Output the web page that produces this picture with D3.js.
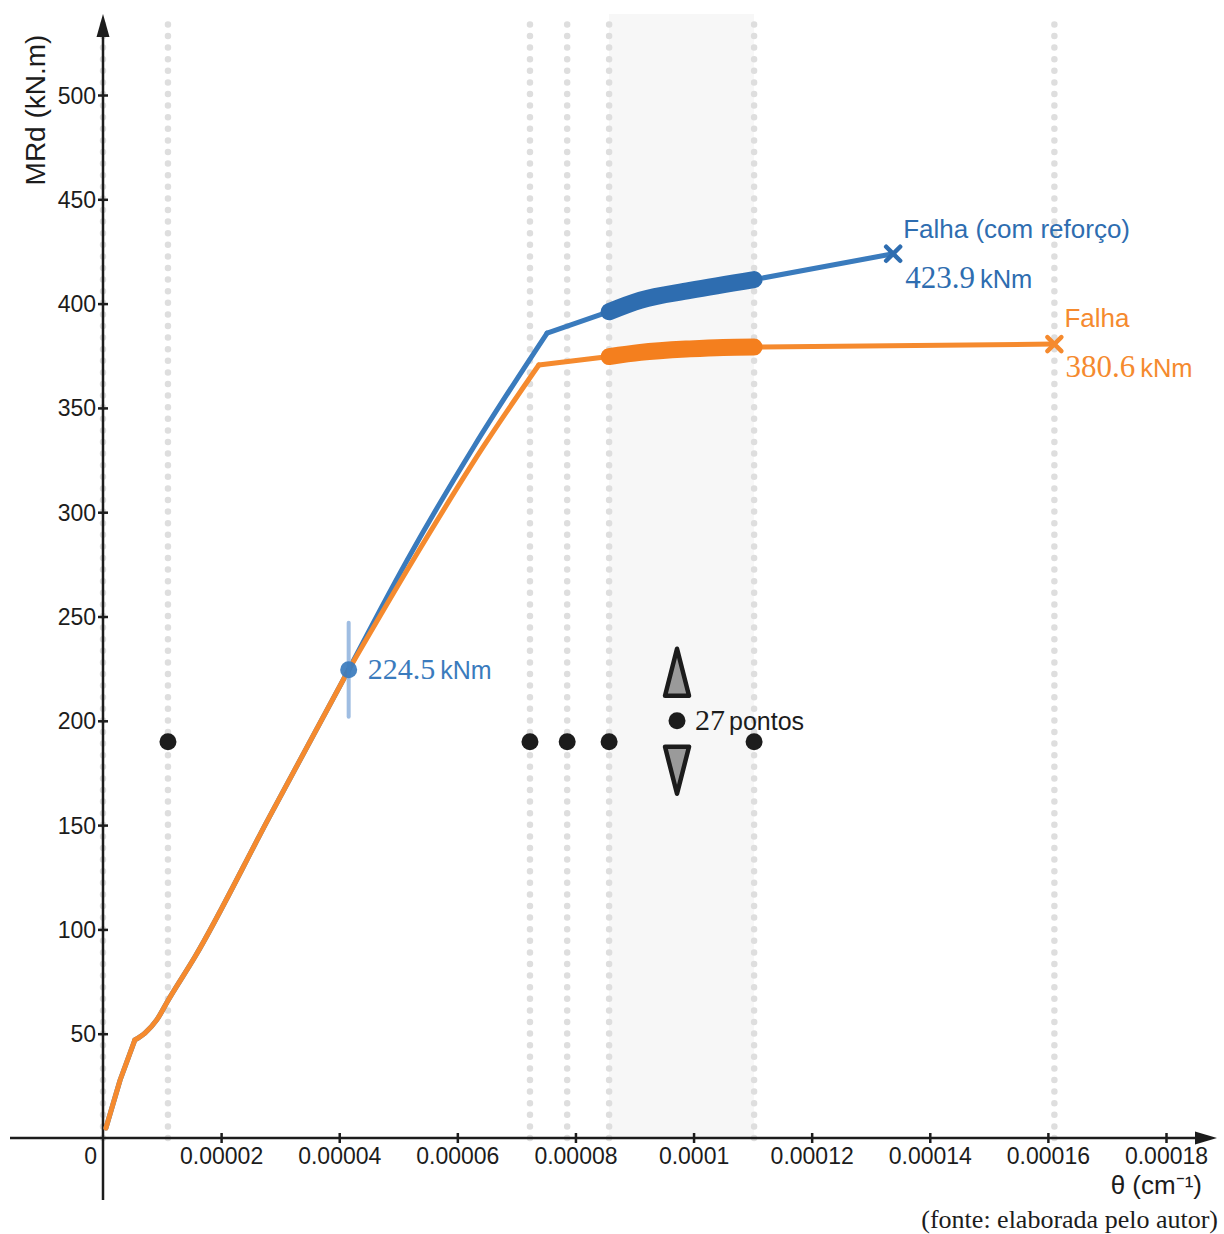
<!DOCTYPE html>
<html>
<head>
<meta charset="utf-8">
<script src="https://cdn.jsdelivr.net/npm/d3@7"></script>
<style>
  html, body { margin: 0; padding: 0; background: #fff; }
  svg { display: block; }
</style>
</head>
<body>
<svg id="chart" width="1224" height="1234"></svg>
<script>
// Moment–curvature curves (θ in cm⁻¹, MRd in kN.m)
// initial cracking stretch, shared by both sections
const startTheta = [0.5e-6, 2.9e-6, 5.4e-6];
const startM     = [4.8, 27.8, 47.0];
// post-cracking stretch up to the yield point, shared by both sections
const sharedTheta = [5.4e-6, 7.1e-6, 9.1e-6, 1.106e-5, 1.56e-5, 2.8e-5, 4.16e-5];
const sharedM     = [47.0, 50.3, 56.6, 66.2, 87.0, 153.0, 224.5];

const blueTheta = [4.16e-5, 5.15e-5, 6.28e-5, 7.52e-5];
const blueM     = [224.5, 277.0, 331.4, 385.9];
const blueRangeTheta = [8.57e-5, 9.1e-5, 9.94e-5, 1.1025e-4];
const blueRangeM     = [396.1, 401.6, 406.3, 411.5];
const blueTailTheta = [7.52e-5, 8.57e-5, 1.1025e-4, 1.338e-4];
const blueTailM     = [385.9, 396.1, 411.5, 423.9];

const orangeTheta = [4.16e-5, 5.25e-5, 6.44e-5, 7.38e-5];
const orangeM     = [224.5, 277.0, 331.4, 370.6];
const orangeRangeTheta = [8.57e-5, 9.1e-5, 9.94e-5, 1.05e-4, 1.1025e-4];
const orangeRangeM     = [374.6, 376.6, 378.3, 379.0, 379.2];
const orangeTailTheta = [7.38e-5, 8.57e-5, 1.1025e-4, 1.611e-4];
const orangeTailM     = [370.6, 374.6, 379.2, 380.6];

// Reference curvatures (dotted guides) and marker points
const guideTheta = [0, 1.1e-5, 7.23e-5, 7.86e-5, 8.57e-5, 1.1025e-4, 1.611e-4];
const stepDotTheta = [1.1e-5, 7.23e-5, 7.86e-5, 8.57e-5, 1.1025e-4];
const stepDotM = 190;
const bandTheta = [8.57e-5, 1.1025e-4];
const countTheta = 9.72e-5, countM = 200, countLabel = "27", countWord = "pontos";

const yieldPoint = { theta: 4.16e-5, m: 224.5 };
const failBlue = { theta: 1.338e-4, m: 423.9, title: "Falha (com reforço)" };
const failOrange = { theta: 1.611e-4, m: 380.6, title: "Falha" };

const xTickValues = [2e-5, 4e-5, 6e-5, 8e-5, 1e-4, 1.2e-4, 1.4e-4, 1.6e-4, 1.8e-4];
const xTickLabels = ["0.00002", "0.00004", "0.00006", "0.00008", "0.0001", "0.00012", "0.00014", "0.00016", "0.00018"];
const yTickValues = [50, 100, 150, 200, 250, 300, 350, 400, 450, 500];
const yTickLabels = ["50", "100", "150", "200", "250", "300", "350", "400", "450", "500"];

const BLUE = "#3a7bbd", BLUE_DARK = "#2e6db0", BLUE_LIGHT = "#9fbde2";
const ORANGE = "#f58a2e", ORANGE_DARK = "#f47f1e";
const INK = "#1c1c1c";
const SANS = "'Liberation Sans', Arial, Helvetica, sans-serif";
const SERIF = "'Liberation Serif', 'Times New Roman', serif";

const svg = d3.select("#chart");
const x = d3.scaleLinear().domain([0, 1.8e-4]).range([103, 1166]);
const y = d3.scaleLinear().domain([0, 500]).range([1138, 95]);

const zip = (ts, ms) => ts.map((t, i) => [t, ms[i]]);
const straight = d3.line().x(d => x(d[0])).y(d => y(d[1]));
const smooth = d3.line().curve(d3.curveMonotoneX).x(d => x(d[0])).y(d => y(d[1]));

// shaded band between the range limits
svg.append("rect")
  .attr("x", x(bandTheta[0])).attr("y", 14)
  .attr("width", x(bandTheta[1]) - x(bandTheta[0]))
  .attr("height", y(0) - 14)
  .attr("fill", "#f7f7f7");

// dotted vertical guides
svg.append("g").selectAll("line").data(guideTheta).join("line")
  .attr("x1", d => x(d)).attr("x2", d => x(d))
  .attr("y1", y(0)).attr("y2", 18)
  .attr("stroke", "#dedede").attr("stroke-width", 6.5)
  .attr("stroke-linecap", "round").attr("stroke-dasharray", "0 11.6");

// axes
const xAxis = d3.axisBottom(x).tickValues(xTickValues)
  .tickFormat((d, i) => xTickLabels[i]).tickSizeInner(5).tickSizeOuter(0).tickPadding(10);
const gx = svg.append("g").attr("transform", `translate(0,${y(0)})`).call(xAxis);
gx.select(".domain").remove();
gx.selectAll(".tick line").attr("y1", -5).attr("y2", 5).attr("stroke", INK).attr("stroke-width", 2.5);
gx.selectAll(".tick text").attr("font-family", SANS).attr("font-size", 23).attr("fill", INK)
  .attr("y", 0).attr("dy", 0).attr("transform", "translate(0,26)");

const yAxis = d3.axisLeft(y).tickValues(yTickValues)
  .tickFormat((d, i) => yTickLabels[i]).tickSizeInner(5).tickSizeOuter(0).tickPadding(6);
const gy = svg.append("g").attr("transform", `translate(${x(0)},0)`).call(yAxis);
gy.select(".domain").remove();
gy.selectAll(".tick line").attr("x1", -5).attr("x2", 5).attr("stroke", INK).attr("stroke-width", 2.5);
gy.selectAll(".tick text").attr("font-family", SANS).attr("font-size", 23).attr("fill", INK)
  .attr("x", -7).attr("dy", "0.35em");

// axis lines with arrowheads
svg.append("line").attr("x1", 10).attr("x2", 1200).attr("y1", y(0)).attr("y2", y(0))
  .attr("stroke", INK).attr("stroke-width", 2.5);
svg.append("path").attr("d", `M1217,${y(0)} L1195,${y(0) - 6.5} L1195,${y(0) + 6.5} Z`).attr("fill", INK);
svg.append("line").attr("x1", x(0)).attr("x2", x(0)).attr("y1", 1200).attr("y2", 30)
  .attr("stroke", INK).attr("stroke-width", 2.5);
svg.append("path").attr("d", `M${x(0)},14 L${x(0) - 6.5},37 L${x(0) + 6.5},37 Z`).attr("fill", INK);

svg.append("text").attr("x", 97).attr("y", 1164).attr("text-anchor", "end")
  .attr("font-family", SANS).attr("font-size", 23).attr("fill", INK).text("0");

// axis titles
svg.append("text").attr("transform", "translate(45,110) rotate(-90)")
  .attr("text-anchor", "middle").attr("font-family", SANS).attr("font-size", 28).attr("fill", INK)
  .text("MRd (kN.m)");
svg.append("text").attr("x", 1202).attr("y", 1194).attr("text-anchor", "end")
  .attr("font-family", SANS).attr("font-size", 26).attr("fill", INK)
  .text("θ (cm⁻¹)");
svg.append("text").attr("x", 1218).attr("y", 1228).attr("text-anchor", "end")
  .attr("font-family", SERIF).attr("font-size", 26).attr("fill", INK)
  .text("(fonte: elaborada pelo autor)");

// step dots
svg.append("g").selectAll("circle").data(stepDotTheta).join("circle")
  .attr("cx", d => x(d)).attr("cy", y(stepDotM)).attr("r", 8.5).attr("fill", INK);

// point-count indicator
const cx0 = x(countTheta), cy0 = y(countM);
svg.append("circle").attr("cx", cx0).attr("cy", cy0).attr("r", 8.5).attr("fill", INK);
svg.append("path").attr("d", `M${cx0},${cy0 - 72} L${cx0 + 12},${cy0 - 25} L${cx0 - 12},${cy0 - 25} Z`)
  .attr("fill", "#9a9a9a").attr("stroke", INK).attr("stroke-width", 4.5).attr("stroke-linejoin", "round");
svg.append("path").attr("d", `M${cx0},${cy0 + 73} L${cx0 + 12},${cy0 + 26} L${cx0 - 12},${cy0 + 26} Z`)
  .attr("fill", "#9a9a9a").attr("stroke", INK).attr("stroke-width", 4.5).attr("stroke-linejoin", "round");
const ct = svg.append("text").attr("x", cx0 + 18).attr("y", cy0 + 9).attr("fill", INK);
ct.append("tspan").attr("font-family", SERIF).attr("font-size", 30).text(countLabel);
ct.append("tspan").attr("dx", 4).attr("font-family", SANS).attr("font-size", 25).text(countWord);

// curves: thin outline pieces, then the highlighted range on top
function drawCurve(ownTheta, ownM, tailTheta, tailM, rangeTheta, rangeM, color, dark) {
  const thin = g => g.attr("fill", "none").attr("stroke", color).attr("stroke-width", 5)
    .attr("stroke-linejoin", "round").attr("stroke-linecap", "round");
  svg.append("path").attr("d", straight(zip(startTheta, startM))).call(thin);
  svg.append("path").attr("d", smooth(zip(sharedTheta, sharedM))).call(thin);
  svg.append("path").attr("d", smooth(zip(ownTheta, ownM))).call(thin);
  svg.append("path").attr("d", straight(zip(tailTheta, tailM))).call(thin);
  svg.append("path").attr("d", smooth(zip(rangeTheta, rangeM))).attr("fill", "none")
    .attr("stroke", dark).attr("stroke-width", 17).attr("stroke-linecap", "round").attr("stroke-linejoin", "round");
}
drawCurve(blueTheta, blueM, blueTailTheta, blueTailM, blueRangeTheta, blueRangeM, BLUE, BLUE_DARK);
drawCurve(orangeTheta, orangeM, orangeTailTheta, orangeTailM, orangeRangeTheta, orangeRangeM, ORANGE, ORANGE_DARK);

// yield point marker
const yx = x(yieldPoint.theta), yy = y(yieldPoint.m);
svg.append("line").attr("x1", yx).attr("x2", yx).attr("y1", yy - 47).attr("y2", yy + 47)
  .attr("stroke", BLUE_LIGHT).attr("stroke-width", 4).attr("stroke-linecap", "round");
svg.append("circle").attr("cx", yx).attr("cy", yy).attr("r", 8.5).attr("fill", BLUE).attr("opacity", 0.92);
const yt = svg.append("text").attr("x", yx + 19).attr("y", yy + 9).attr("fill", BLUE);
yt.append("tspan").attr("font-family", SERIF).attr("font-size", 30).text(yieldPoint.m.toFixed(1));
yt.append("tspan").attr("dx", 5).attr("font-family", SANS).attr("font-size", 25).text("kNm");

// failure markers
function failMarker(p, color, titleDx, titleDy, valDx, valDy) {
  const px = x(p.theta), py = y(p.m);
  svg.append("path").attr("d", `M${px - 7},${py - 7} L${px + 7},${py + 7} M${px - 7},${py + 7} L${px + 7},${py - 7}`)
    .attr("stroke", color).attr("stroke-width", 4.5).attr("stroke-linecap", "round");
  svg.append("text").attr("x", px + titleDx).attr("y", py + titleDy)
    .attr("font-family", SANS).attr("font-size", 26).attr("fill", color).text(p.title);
  const t = svg.append("text").attr("x", px + valDx).attr("y", py + valDy).attr("fill", color);
  t.append("tspan").attr("font-family", SERIF).attr("font-size", 31).text(p.m.toFixed(1));
  t.append("tspan").attr("dx", 5).attr("font-family", SANS).attr("font-size", 25.5).text("kNm");
}
failMarker(failBlue, BLUE_DARK, 10, -16, 12, 34);
failMarker(failOrange, ORANGE, 10, -17, 11, 33);
</script>
</body>
</html>
